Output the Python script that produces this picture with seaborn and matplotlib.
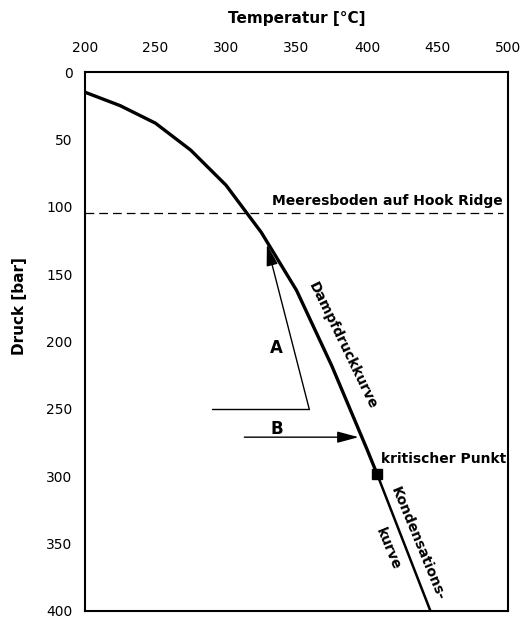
import matplotlib
matplotlib.use("Agg")
import matplotlib.pyplot as plt
import seaborn as sns
import pandas as pd

# Vapour pressure curve of seawater up to the critical point
temp_vapour = [200, 225, 250, 275, 300, 325, 350, 375, 400, 407]
press_vapour = [15, 25, 38, 58, 84, 119, 162, 218, 280, 298]

# Condensation curve beyond the critical point
temp_cond = [407, 445]
press_cond = [298, 400]

critical_t, critical_p = 407, 298
seafloor_p = 105

# Path A: heating at depth, then rise toward the boiling curve
path_a_t = [290, 359]
path_a_p = [250, 250]
arrow_a_start = (359, 250)
arrow_a_end = (329, 128)

# Path B: isobaric heating
arrow_b_start = (313, 271)
arrow_b_end = (394, 271)

x_ticks = [200, 250, 300, 350, 400, 450, 500]
y_ticks = [0, 50, 100, 150, 200, 250, 300, 350, 400]

sns.set_style("white")
plt.rcParams["font.family"] = ["DejaVu Sans"]
plt.rcParams.update({"text.color": "black", "axes.labelcolor": "black",
                     "xtick.color": "black", "ytick.color": "black"})

fig = plt.figure(figsize=(5.21, 6.18), dpi=100)
ax = fig.add_axes([85 / 521, 1 - 611 / 618, 423 / 521, 539 / 618])

vap = pd.DataFrame({"T": temp_vapour, "P": press_vapour})
cond = pd.DataFrame({"T": temp_cond, "P": press_cond})
sns.lineplot(data=vap, x="T", y="P", ax=ax, color="black", lw=2.4, sort=False)
sns.lineplot(data=cond, x="T", y="P", ax=ax, color="black", lw=1.8, sort=False)

ax.plot([critical_t], [critical_p], marker="s", color="black", ms=7.5, ls="none")

ax.axhline(seafloor_p, xmin=0, xmax=0.987, color="black", lw=0.9, ls=(0, (7, 4)))

ax.plot(path_a_t, path_a_p, color="black", lw=1.0)
ax.annotate("", xy=arrow_a_end, xytext=arrow_a_start,
            arrowprops=dict(arrowstyle="-|>,head_length=1.3,head_width=0.35",
                            color="black", lw=1.0, shrinkA=0, shrinkB=0))
ax.annotate("", xy=arrow_b_end, xytext=arrow_b_start,
            arrowprops=dict(arrowstyle="-|>,head_length=1.3,head_width=0.35",
                            color="black", lw=1.0, shrinkA=0, shrinkB=0))

ax.text(336, 205, "A", fontsize=12, fontweight="bold", ha="center", va="center")
ax.text(336, 265, "B", fontsize=12, fontweight="bold", ha="center", va="center")
ax.text(496, 101, "Meeresboden auf Hook Ridge", fontsize=10, fontweight="bold",
        ha="right", va="bottom")
ax.text(383, 203, "Dampfdruckkurve", fontsize=10, fontweight="bold",
        rotation=-64, rotation_mode="anchor", ha="center", va="center")
ax.text(410, 287, "kritischer Punkt", fontsize=10, fontweight="bold",
        ha="left", va="center")
ax.text(436, 350, "Kondensations-", fontsize=10, fontweight="bold",
        rotation=-67.5, rotation_mode="anchor", ha="center", va="center")
ax.text(415, 354, "kurve", fontsize=10, fontweight="bold",
        rotation=-67.5, rotation_mode="anchor", ha="center", va="center")

ax.set_xlim(200, 500)
ax.set_ylim(400, 0)
ax.set_xticks(x_ticks)
ax.set_yticks(y_ticks)
ax.xaxis.tick_top()
ax.xaxis.set_label_position("top")
ax.tick_params(axis="x", length=0, pad=12, labelsize=10)
ax.tick_params(axis="y", length=0, pad=9, labelsize=10)
ax.set_xlabel("Temperatur [°C]", fontsize=11, fontweight="bold", labelpad=13)
ax.set_ylabel("")
fig.text(20 / 521, 1 - 306 / 618, "Druck [bar]", fontsize=11, fontweight="bold",
         rotation=90, ha="center", va="center")

for s in ax.spines.values():
    s.set_color("black")
    s.set_linewidth(1.5)

fig.savefig("out.png", dpi=100)
